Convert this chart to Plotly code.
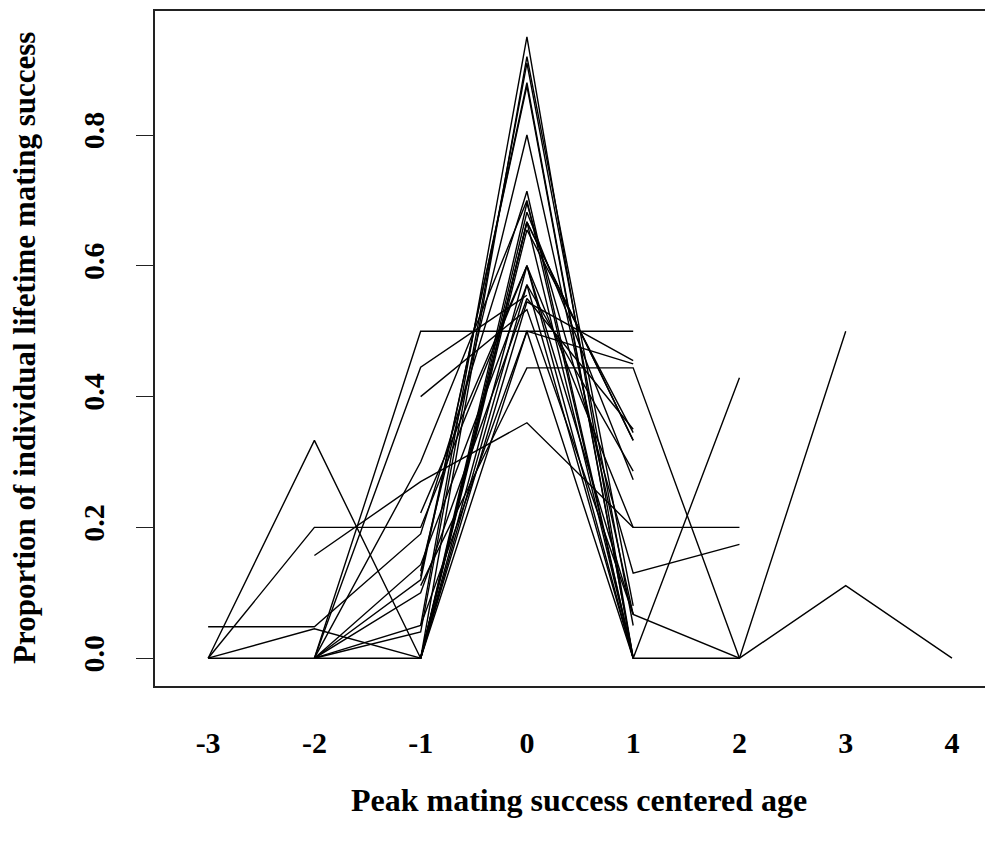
import plotly.graph_objects as go

# Each individual: first centered age, then proportions at consecutive ages
start_ages = [-1, -1, -2, -1, -1, -3, -1, -1, -2, -1,
              -1, -1, -3, -1, -3, -3, -3, -2, 0, -2,
              -1, -1, -2, -1, -2, -2, -1, -2, -2]

p01 = [0.05, 0.95, 0.0]
p02 = [0.0, 0.92, 0.08]
p03 = [0.0, 0.04, 0.91, 0.05]
p04 = [0.125, 0.875, 0.0]
p05 = [0.133, 0.8, 0.067]
p06 = [0.0, 0.2, 0.2, 0.6, 0.0]
p07 = [0.111, 0.444, 0.444, 0.0]
p08 = [0.0, 0.571, 0.0, 0.429]
p09 = [0.157, 0.27, 0.36, 0.2]
p10 = [0.0, 0.5, 0.0, 0.0, 0.5]
p11 = [0.222, 0.6, 0.067, 0.0, 0.111, 0.0]
p12 = [0.0, 0.696, 0.13, 0.174]
p13 = [0.0, 0.333, 0.0, 0.667, 0.0]
p14 = [0.0, 0.6, 0.2, 0.2]
p15 = [0.048, 0.048, 0.19, 0.714, 0.0]
p16 = [0.0, 0.045, 0.0, 0.682, 0.273]
p17 = [0.0, 0.0, 0.1, 0.55, 0.35]
p18 = [0.0, 0.5, 0.5]
p19 = [0.5, 0.5]
p20 = [0.0, 0.445, 0.555]
p21 = [0.4, 0.533, 0.067]
p22 = [0.0, 0.545, 0.455]
p23 = [0.0, 0.05, 0.5, 0.45]
p24 = [0.0, 0.667, 0.333]
p25 = [0.0, 0.143, 0.571, 0.286]
p26 = [0.0, 0.3, 0.7, 0.0]
p27 = [0.0, 0.655, 0.345]
p28 = [0.0, 0.0, 0.667, 0.333]
p29 = [0.0, 0.12, 0.88, 0.0]

individuals = [p01, p02, p03, p04, p05, p06, p07, p08, p09, p10,
               p11, p12, p13, p14, p15, p16, p17, p18, p19, p20,
               p21, p22, p23, p24, p25, p26, p27, p28, p29]

x_ticks = [-3, -2, -1, 0, 1, 2, 3, 4]
x_tick_text = ["-3", "-2", "-1", "0", "1", "2", "3", "4"]
y_ticks = [0.0, 0.2, 0.4, 0.6, 0.8]
y_tick_text = ["0.0", "0.2", "0.4", "0.6", "0.8"]

FONT = "Liberation Serif, Times New Roman, serif"

fig = go.Figure()
for start, vals in zip(start_ages, individuals):
    ages = [start + i for i in range(len(vals))]
    fig.add_trace(go.Scatter(x=ages, y=vals, mode="lines",
                             line=dict(color="black", width=1.4),
                             showlegend=False, hoverinfo="skip"))

# page body has an 8px default margin; figure sized so the plot box lands
# at the reference position (left 155, top 11, bottom 686, right edge of page)
fig.update_layout(
    width=985, height=834,
    margin=dict(l=147, r=0, t=3, b=156),
    paper_bgcolor="white", plot_bgcolor="white",
    xaxis=dict(range=[-3.5, 4.386], tickvals=x_ticks, ticktext=x_tick_text,
               ticks="", showgrid=False, zeroline=False,
               showline=True, mirror=True, linecolor="#222", linewidth=1.6,
               tickfont=dict(family=FONT, size=30, color="black", weight="bold"),
               ticklabelstandoff=29),
    yaxis=dict(range=[-0.0425, 0.9896], tickvals=y_ticks, ticktext=y_tick_text,
               ticks="outside", ticklen=17, tickwidth=1.3, tickcolor="#222",
               tickangle=-90,
               showgrid=False, zeroline=False,
               showline=True, mirror=False, linecolor="#222", linewidth=1.6,
               tickfont=dict(family=FONT, size=30, color="black", weight="bold"),
               ticklabelstandoff=20),
    annotations=[
        dict(text="Peak mating success centered age", xref="paper", yref="paper",
             x=(579 - 155) / 838, y=-(800 - 686) / 675,
             xanchor="center", yanchor="middle", showarrow=False,
             font=dict(family=FONT, size=32, color="black", weight="bold")),
        dict(text="Proportion of individual lifetime mating success",
             xref="paper", yref="paper", textangle=-90,
             x=(24 - 155) / 838, y=(686 - 348) / 675,
             xanchor="center", yanchor="middle", showarrow=False,
             font=dict(family=FONT, size=31, color="black", weight="bold")),
    ],
)

fig.write_html("out.html")
